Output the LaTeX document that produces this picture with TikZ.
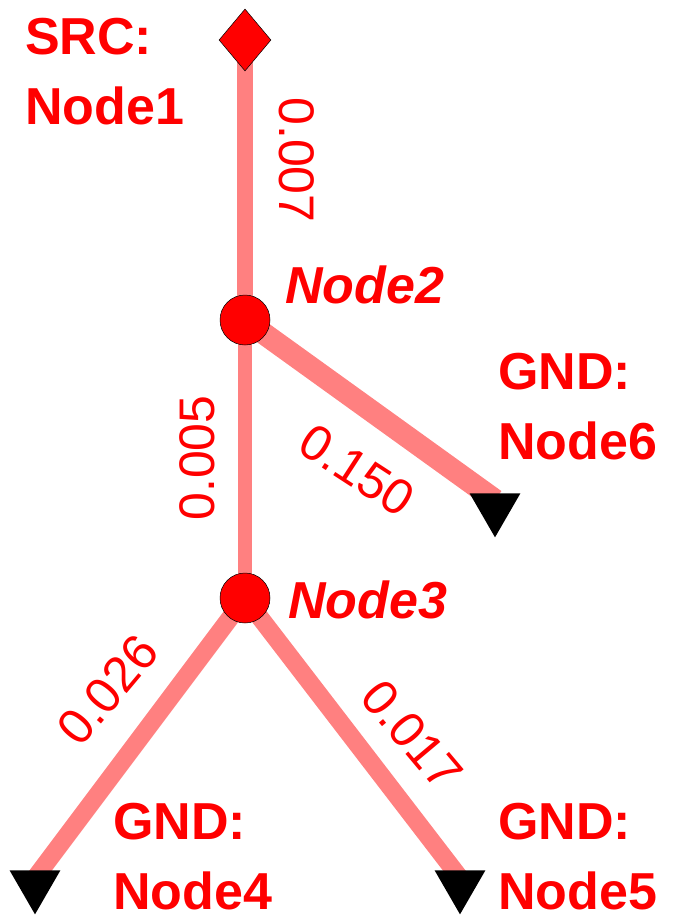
\documentclass[tikz,border=0pt]{standalone}
\usepackage{fontspec}
\setmainfont{Liberation Sans}
\usetikzlibrary{shapes.geometric}
\definecolor{ered}{RGB}{255,0,0}
\definecolor{epink}{RGB}{255,128,128}
\begin{document}
\begin{tikzpicture}[x=1pt,y=-1pt,
  edge/.style={epink},
  nlabel/.style={text=ered,font=\fontsize{52}{70}\selectfont\bfseries,align=left,anchor=west,inner sep=0pt},
  val/.style={text=ered,font=\fontsize{50}{56}\selectfont,inner sep=0pt},
  dot/.style={circle,fill=ered,draw=black,line width=0.5pt,minimum size=50pt,inner sep=0pt},
  gnd/.style={isosceles triangle,shape border rotate=-90,isosceles triangle apex angle=60,fill=black,minimum width=48pt,minimum height=44pt,inner sep=0pt}]
\useasboundingbox (0,0) rectangle (696,920);
\coordinate (n1) at (245,40);
\coordinate (n2) at (245,320);
\coordinate (n3) at (245,598);
\coordinate (n6) at (495,500);
\coordinate (n4) at (35,878);
\coordinate (n5) at (460,878);
\draw[edge,line width=16pt] (n1) -- (n2);
\draw[edge,line width=14pt] (n2) -- (n3);
\draw[edge,line width=22pt] (n2) -- (n6);
\draw[edge,line width=18pt] (n3) -- (n4);
\draw[edge,line width=18pt] (n3) -- (n5);
\node[diamond,fill=ered,draw=black,line width=0.5pt,minimum width=52pt,minimum height=62pt,inner sep=0pt] (d1) at (n1) {};
\node[dot] (c2) at (n2) {};
\node[dot] (c3) at (n3) {};
\node[gnd] (t6) at (495,508) {};
\node[gnd] (t4) at (35,885) {};
\node[gnd] (t5) at (460,885) {};
\node[val,rotate=-90] (l1) at (297,160) {0.007};
\node[val,rotate=90] (l2) at (197,458) {0.005};
\node[val,rotate=-33] (l3) at (357,470) {0.150};
\node[val,rotate=50] (l4) at (108,690) {0.026};
\node[val,rotate=-50] (l5) at (412,735) {0.017};
\node[nlabel] (s1) at (25,72) {SRC:\\Node1};
\node[nlabel,font=\fontsize{52}{70}\selectfont\bfseries\itshape] (s2) at (285,285) {Node2};
\node[nlabel,font=\fontsize{52}{70}\selectfont\bfseries\itshape] (s3) at (288,600) {Node3};
\node[nlabel] (s6) at (498,407) {GND:\\Node6};
\node[nlabel] (s4) at (113,857) {GND:\\Node4};
\node[nlabel] (s5) at (498,857) {GND:\\Node5};
\end{tikzpicture}
\end{document}
